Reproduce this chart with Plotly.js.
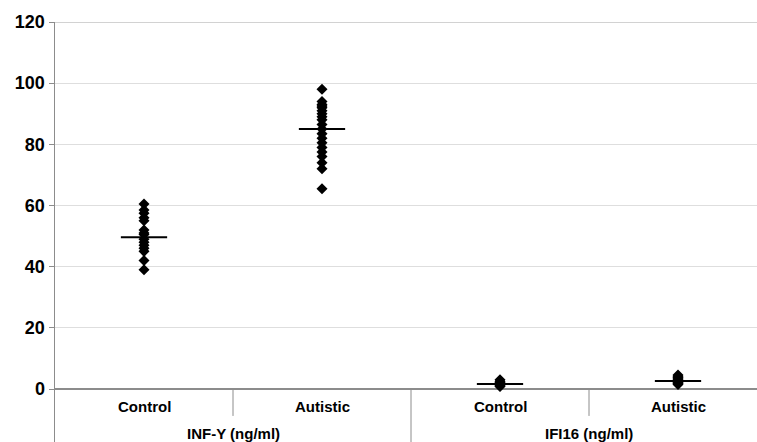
<!DOCTYPE html>
<html>
<head>
<meta charset="utf-8">
<script src="https://cdn.plot.ly/plotly-3.0.1.min.js"></script>
<style>html,body{margin:0;padding:0;background:#fff;}#chart{width:757px;height:442px;}</style>
</head>
<body>
<div id="chart"></div>
<script>
// ---- data ----
const categories = ['Control', 'Autistic', 'Control', 'Autistic'];
const groups = ['INF-Y (ng/ml)', 'IFI16 (ng/ml)'];
const infyControl = [60.5, 58.5, 57.5, 56, 55, 52, 51, 50.5, 49, 48, 47, 46, 45, 42, 39];
const infyAutistic = [98, 94, 93, 92.5, 92, 91, 90, 89, 88, 86.5, 85, 83.5, 82, 80.5, 79, 77.5, 76, 74, 72, 65.5];
const ifiControl = [3.0, 2.5, 2.2, 2.0, 1.8, 1.6, 1.5, 1.2, 1.0, 0.8];
const ifiAutistic = [4.6, 4.2, 3.8, 3.5, 3.0, 2.6, 2.2, 2.0, 1.8, 1.5];
const means = [49.6, 85.0, 1.6, 2.6];
const yTicks = [0, 20, 40, 60, 80, 100, 120];

const seriesList = [infyControl, infyAutistic, ifiControl, ifiAutistic];

// points
const px = [], py = [];
seriesList.forEach((arr, i) => arr.forEach(v => { px.push(i); py.push(v); }));

// mean bars
const halfW = 0.13;
const mx = [], my = [];
means.forEach((m, i) => { mx.push(i - halfW, i + halfW, null); my.push(m, m, null); });

const traces = [
  { type: 'scatter', mode: 'lines', x: mx, y: my, line: { color: '#000', width: 2 }, hoverinfo: 'skip', showlegend: false },
  { type: 'scatter', mode: 'markers', x: px, y: py, marker: { symbol: 'diamond', size: 8.5, color: '#000' }, showlegend: false }
];

const fontFam = 'Liberation Sans, Arial, sans-serif';
const annotations = [];
categories.forEach((c, i) => annotations.push({
  x: i, y: -5.6, xref: 'x', yref: 'y', text: '<b>' + c + '</b>', showarrow: false,
  font: { family: fontFam, size: 15, color: '#000' }, xanchor: 'center', yanchor: 'middle'
}));
groups.forEach((g, j) => annotations.push({
  x: j * 2 + 0.5, y: -14.7, xref: 'x', yref: 'y', text: '<b>' + g + '</b>', showarrow: false,
  font: { family: fontFam, size: 15, color: '#000' }, xanchor: 'center', yanchor: 'middle'
}));

const divColor = '#8c8c8c';
const shapes = [
  { type: 'line', xref: 'x', yref: 'y', x0: 0.5, x1: 0.5, y0: 0, y1: -8.8, line: { color: divColor, width: 1 } },
  { type: 'line', xref: 'x', yref: 'y', x0: 2.5, x1: 2.5, y0: 0, y1: -8.8, line: { color: divColor, width: 1 } },
  { type: 'line', xref: 'x', yref: 'paper', x0: 1.5, x1: 1.5, y0: 0, y1: 0.125, line: { color: divColor, width: 1 } },
  { type: 'line', xref: 'paper', yref: 'y', x0: 0, x1: 1, y0: 120, y1: 120, line: { color: '#a6a6a6', width: 1 } }
];

const layout = {
  width: 757, height: 442,
  margin: { l: 55, r: 0, t: 22, b: 0, pad: 0 },
  paper_bgcolor: '#fff', plot_bgcolor: '#fff',
  showlegend: false,
  xaxis: {
    range: [-0.5, -0.5 + 702 / 178], showgrid: false, zeroline: false,
    showticklabels: false, ticks: '', showline: false, fixedrange: true
  },
  yaxis: {
    range: [-17.33, 120], tickvals: yTicks, ticktext: yTicks.map(String),
    showgrid: true, gridcolor: '#dedede', gridwidth: 1,
    zeroline: true, zerolinecolor: '#8c8c8c', zerolinewidth: 1.5,
    showline: true, linecolor: '#8c8c8c', linewidth: 1.5,
    ticks: 'outside', ticklen: 5, tickcolor: '#8c8c8c', tickwidth: 1,
    tickfont: { family: fontFam, size: 18, color: '#000', weight: 'bold' },
    fixedrange: true
  },
  annotations: annotations,
  shapes: shapes
};

Plotly.newPlot('chart', traces, layout, { displayModeBar: false, staticPlot: true });
</script>
</body>
</html>
